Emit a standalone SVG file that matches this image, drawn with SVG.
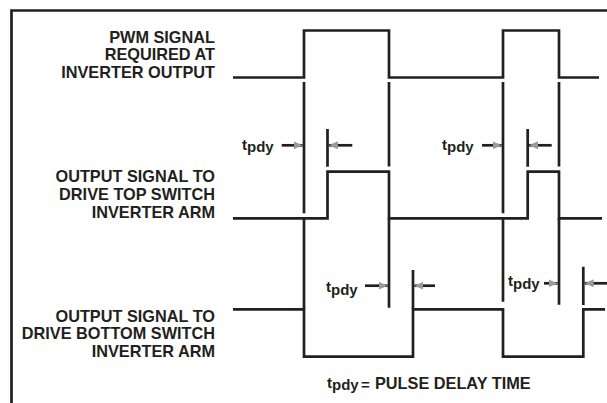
<svg xmlns="http://www.w3.org/2000/svg" width="607" height="403" viewBox="0 0 607 403">
<style>
.ln{fill:none;stroke:#231f20;stroke-width:2.7;stroke-linejoin:miter;stroke-linecap:butt}
.lab{font-family:"Liberation Sans",Arial,sans-serif;font-weight:bold;font-size:16.3px;fill:#231f20;text-anchor:end}
.t{font-family:"Liberation Sans",Arial,sans-serif;font-weight:bold;font-size:15px;fill:#231f20}
.foot{font-family:"Liberation Sans",Arial,sans-serif;font-weight:bold;font-size:16.3px;fill:#231f20}
</style>
<defs>
<marker id="ah" viewBox="0 0 9 8" refX="9" refY="4" markerWidth="9" markerHeight="8" markerUnits="userSpaceOnUse" orient="auto">
<path d="M0,0 L9,4 L0,8 z" fill="#9a9a9a"/>
</marker>
</defs>
<rect width="607" height="403" fill="#fff"/>
<g id="frame">
<path class="ln" d="M11.5,403 V10.5 H607" stroke-width="3"/>
</g>
<g id="labels">
<text class="lab" x="215" y="43">PWM SIGNAL</text>
<text class="lab" x="215" y="60">REQUIRED AT</text>
<text class="lab" x="215" y="78">INVERTER OUTPUT</text>
<text class="lab" x="215" y="181.5">OUTPUT SIGNAL TO</text>
<text class="lab" x="215" y="200">DRIVE TOP SWITCH</text>
<text class="lab" x="215" y="218">INVERTER ARM</text>
<text class="lab" x="215" y="321.5">OUTPUT SIGNAL TO</text>
<text class="lab" x="215" y="339">DRIVE BOTTOM SWITCH</text>
<text class="lab" x="215" y="356.5">INVERTER ARM</text>
</g>
<g id="wave-pwm">
<path class="ln" d="M233,77.5 H304 V30.5 H389 V77.5 H503 V30.5 H559 V77.5 H599"/>
</g>
<g id="wave-top">
<path class="ln" d="M233,218.3 H327.5 V171.7 H389 V218.3 H527.7 V171.7 H559 V218.3 H602"/>
</g>
<g id="wave-bottom">
<path class="ln" d="M233,309.3 H304 V356.7 H413 V309.3 H503 V356.7 H583.3 V309.3 H605"/>
</g>
<g id="connectors">
<path class="ln" d="M304,82 V213.3 M304,218 V309 M389,82 V166.5 M389,218 V307.7 M327.5,129 V166.7 M503,82 V213.3 M503,218 V301.7 M527.7,129 V166.7 M559,82 V166.5 M559,218 V304.7 M413,270 V309 M583.3,266.7 V305"/>
<path class="ln" d="M281.7,145.3 H302.6" marker-end="url(#ah)"/>
<path class="ln" d="M352.3,145.3 H328.9" marker-end="url(#ah)"/>
<path class="ln" d="M482,145.3 H501.6" marker-end="url(#ah)"/>
<path class="ln" d="M551.7,145.3 H529" marker-end="url(#ah)"/>
<path class="ln" d="M365,285.7 H387.6" marker-end="url(#ah)"/>
<path class="ln" d="M435,285.7 H414.4" marker-end="url(#ah)"/>
<path class="ln" d="M544,283.3 H557.6" marker-end="url(#ah)"/>
<path class="ln" d="M607,283.3 H584.7" marker-end="url(#ah)"/>
</g>
<g id="tpdy-labels">
<text class="t" x="242" y="150">t<tspan dy="2">pdy</tspan></text>
<text class="t" x="442" y="150">t<tspan dy="2">pdy</tspan></text>
<text class="t" x="326" y="292">t<tspan dy="3">pdy</tspan></text>
<text class="t" x="508" y="286">t<tspan dy="3">pdy</tspan></text>
</g>
<g id="legend">
<text class="t" x="327" y="388">t<tspan dy="2">pdy</tspan></text>
<text class="t" x="361" y="390" font-weight="normal" font-size="11" fill="#999">=</text>
<text class="foot" x="375" y="389">PULSE DELAY TIME</text>
</g>
</svg>
